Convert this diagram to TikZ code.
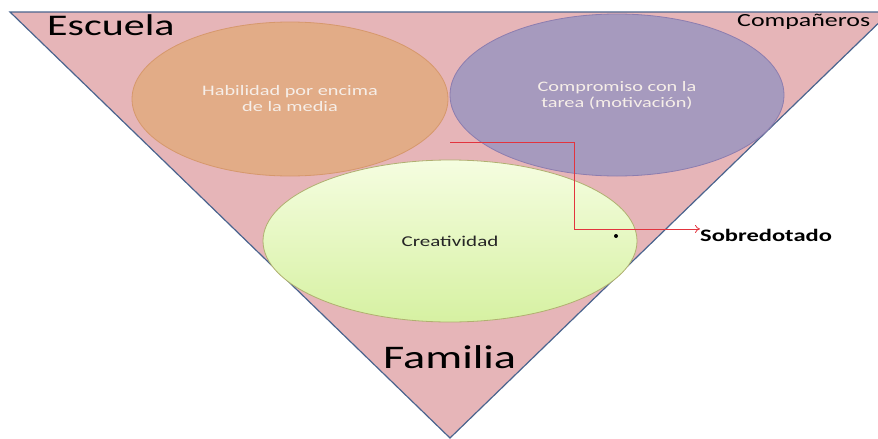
\documentclass[tikz,border=0pt]{standalone}
\usepackage{fontspec}
\setmainfont{Carlito}[FakeStretch=1.4]
\usetikzlibrary{shapes.geometric, arrows.meta}
\definecolor{trifill}{RGB}{230,181,184}
\definecolor{triline}{RGB}{74,100,142}
\definecolor{habfill}{RGB}{226,172,135}
\definecolor{habline}{RGB}{214,152,108}
\definecolor{compfill}{RGB}{166,154,190}
\definecolor{compline}{RGB}{140,125,175}
\definecolor{creatop}{RGB}{245,253,224}
\definecolor{creabot}{RGB}{214,241,162}
\definecolor{crealine}{RGB}{176,176,112}
\definecolor{arrowred}{RGB}{226,52,62}
\definecolor{lighttext}{RGB}{246,238,232}
\tikzset{
  blob/.style={
    ellipse,
    line width=0.8pt,
    inner sep=0pt,
    align=center,
  },
  point/.style={
    circle,
    fill=black,
    minimum size=4pt,
    inner sep=0pt,
  },
  word/.style={
    inner sep=0pt,
    anchor=base west,
  }
}

\begin{document}
\begin{tikzpicture}[x=1pt, y=-1pt]
  \clip (0, 0) rectangle (878, 439);
  \draw[line width=1.2pt, draw=triline, fill=trifill] (10, 12) -- (890, 12) -- (450, 438) -- cycle;

  \node[blob, draw=habline, fill=habfill, minimum width=316pt, minimum height=154pt,
    text=lighttext, font=\fontsize{14.5}{16}\selectfont] (hab) at (290, 99)
    {Habilidad por encima\\de la media};
  \node[blob, draw=compline, fill=compfill, minimum width=334pt, minimum height=162pt,
    text=lighttext, font=\fontsize{14.5}{16}\selectfont] (comp) at (617, 95)
    {Compromiso con la\\tarea (motivación)};
  \node[blob, draw=crealine, top color=creatop, bottom color=creabot, minimum width=374pt,
    minimum height=162pt, text=black!85, font=\fontsize{15}{17}\selectfont] (crea) at (450, 241)
    {Creatividad};

  \node[word, font=\fontsize{30}{32}\selectfont] (escuela) at (47, 35) {Escuela};
  \node[word, font=\fontsize{18.5}{20}\selectfont] (companeros) at (737, 27) {Compañeros};
  \node[word, font=\fontsize{33}{35}\selectfont] (familia) at (383, 368) {Familia};
  \node[word, font=\fontsize{17.5}{19}\selectfont\bfseries] (sob) at (700, 241) {Sobredotado};

  \node[point] (dot) at (616, 236) {};

  \coordinate (start) at (450, 142);
  \coordinate (bend) at (574, 142);
  \draw[arrowred, line width=0.8pt, -{To[length=5pt, width=8pt]}] (start) -- (bend) |- ([yshift=6pt]sob.west);

\end{tikzpicture}
\end{document}
